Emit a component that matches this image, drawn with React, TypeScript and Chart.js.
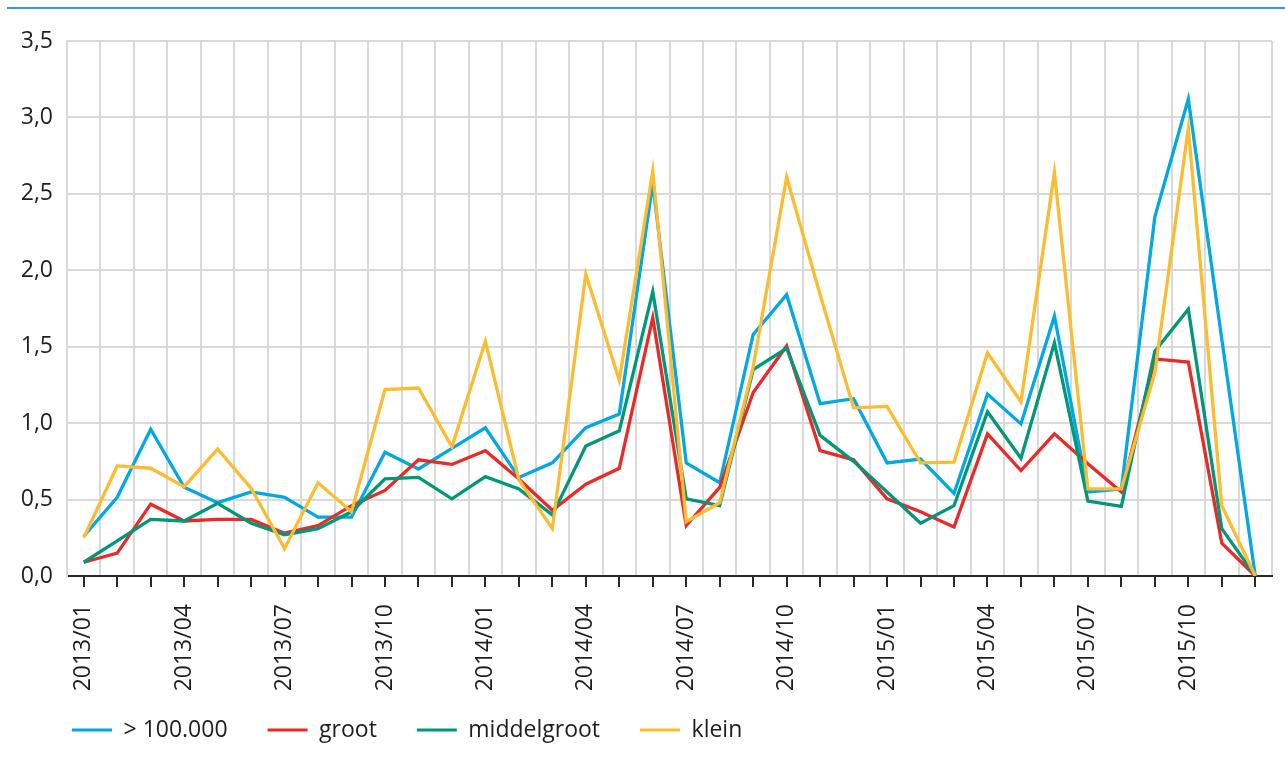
import React, { useEffect, useRef } from 'react';
import { Chart, registerables } from 'chart.js';

Chart.register(...registerables);

const months = [
  '2013/01', '2013/02', '2013/03', '2013/04', '2013/05', '2013/06',
  '2013/07', '2013/08', '2013/09', '2013/10', '2013/11', '2013/12',
  '2014/01', '2014/02', '2014/03', '2014/04', '2014/05', '2014/06',
  '2014/07', '2014/08', '2014/09', '2014/10', '2014/11', '2014/12',
  '2015/01', '2015/02', '2015/03', '2015/04', '2015/05', '2015/06',
  '2015/07', '2015/08', '2015/09', '2015/10', '2015/11', '2015/12',
];

const seriesNames = ['> 100.000', 'groot', 'middelgroot', 'klein'];

const over100k = [0.26, 0.515, 0.96, 0.58, 0.48, 0.55, 0.515, 0.385, 0.385, 0.81, 0.70, 0.835,
  0.97, 0.645, 0.74, 0.97, 1.06, 2.57, 0.74, 0.61, 1.58, 1.84, 1.127, 1.16,
  0.74, 0.765, 0.54, 1.19, 0.995, 1.70, 0.55, 0.57, 2.35, 3.12, 1.55, 0];

const groot = [0.09, 0.15, 0.47, 0.36, 0.37, 0.37, 0.28, 0.33, 0.46, 0.56, 0.76, 0.73,
  0.82, 0.635, 0.43, 0.60, 0.705, 1.69, 0.33, 0.58, 1.20, 1.505, 0.82, 0.76,
  0.505, 0.42, 0.32, 0.93, 0.69, 0.93, 0.735, 0.55, 1.42, 1.40, 0.215, 0];

const middelgroot = [0.09, 0.23, 0.37, 0.36, 0.475, 0.345, 0.27, 0.31, 0.42, 0.635, 0.645, 0.505,
  0.65, 0.57, 0.40, 0.85, 0.95, 1.86, 0.505, 0.46, 1.35, 1.49, 0.92, 0.75,
  0.55, 0.345, 0.46, 1.075, 0.77, 1.525, 0.49, 0.455, 1.47, 1.745, 0.31, 0];

const klein = [0.25, 0.72, 0.705, 0.585, 0.83, 0.575, 0.18, 0.61, 0.42, 1.22, 1.23, 0.845,
  1.535, 0.63, 0.31, 1.975, 1.28, 2.65, 0.355, 0.48, 1.37, 2.61, 1.84, 1.10,
  1.11, 0.74, 0.745, 1.46, 1.14, 2.64, 0.57, 0.57, 1.33, 2.93, 0.46, 0];

const colors = ['#01a9e4', '#ea2a26', '#01977a', '#fdbb30'];
const drawOrder = [3, 2, 1, 0];

const tickMarks = {
  id: 'tickMarks',
  afterDraw(chart: any) {
    const xs = chart.scales.x;
    const ctx = chart.ctx;
    const y0 = chart.chartArea.bottom;
    ctx.save();
    ctx.strokeStyle = '#2a2a2a';
    ctx.lineWidth = 2;
    ctx.beginPath();
    for (let i = 0; i < xs.ticks.length; i++) {
      const px = Math.round(xs.getPixelForTick(i));
      ctx.moveTo(px, y0);
      ctx.lineTo(px, y0 + 11);
    }
    ctx.stroke();
    ctx.restore();
  },
};

const legendPlacement = {
  id: 'legendPlacement',
  afterLayout(chart: any) {
    const lg = chart.legend;
    if (!lg) return;
    lg.left = 32;
    lg.top = 678.5;
  },
};

export default function App() {
  const canvasRef = useRef<HTMLCanvasElement | null>(null);

  useEffect(() => {
    if (!canvasRef.current) return;
    Chart.defaults.font.family = "'Open Sans', sans-serif";
    const values = [over100k, groot, middelgroot, klein];
    const chart = new Chart(canvasRef.current, {
      type: 'line',
      data: {
        labels: months,
        datasets: values.map((d, k) => ({
          label: seriesNames[k],
          data: d,
          borderColor: colors[k],
          backgroundColor: colors[k],
          borderWidth: 3.3,
          pointRadius: 0,
          tension: 0,
          order: drawOrder[k],
        })),
      },
      options: {
        animation: false,
        responsive: true,
        maintainAspectRatio: false,
        layout: { padding: { left: 22, right: 13, top: 41, bottom: 1 } },
        plugins: {
          tooltip: { enabled: false },
          legend: {
            position: 'bottom',
            align: 'start',
            labels: {
              boxWidth: 40,
              boxHeight: 3,
              padding: 40,
              color: '#1e1e1e',
              font: { size: 23 },
              sort: (a: any, b: any) => a.datasetIndex - b.datasetIndex,
              generateLabels: (c: any) =>
                Chart.defaults.plugins.legend.labels.generateLabels(c).map((l: any) => ({ ...l, lineWidth: 0 })),
            },
          },
        },
        scales: {
          x: {
            offset: true,
            grid: { offset: true, color: '#d9d9d9', lineWidth: 2, drawTicks: false },
            border: { color: '#2a2a2a', width: 2 },
            ticks: {
              autoSkip: false,
              minRotation: 90,
              maxRotation: 90,
              padding: 28,
              color: '#1e1e1e',
              font: { size: 23 },
              callback: (_v: any, i: number) => (i % 3 === 0 ? months[i] : ''),
            },
            afterFit: (s: any) => {
              s.height = 114;
              s.paddingLeft = 0;
              s.paddingRight = 0;
            },
          },
          y: {
            min: 0,
            max: 3.5,
            grid: { color: '#d9d9d9', lineWidth: 2, drawTicks: false },
            border: { color: '#d9d9d9', width: 2 },
            ticks: {
              stepSize: 0.5,
              padding: 14,
              color: '#1e1e1e',
              font: { size: 23 },
              callback: (v: any) => Number(v).toFixed(1).replace('.', ','),
            },
            afterFit: (s: any) => { s.width = 45; },
          },
        },
      },
      plugins: [tickMarks, legendPlacement],
    });
    return () => chart.destroy();
  }, []);

  return (
    <div style={{ position: 'fixed', left: 0, top: 0, width: 1285, height: 764, background: '#fff' }}>
      <div style={{ position: 'absolute', left: 7, right: 0, top: 7, height: 2, background: '#2f9fd8' }} />
      <canvas ref={canvasRef} />
    </div>
  );
}
